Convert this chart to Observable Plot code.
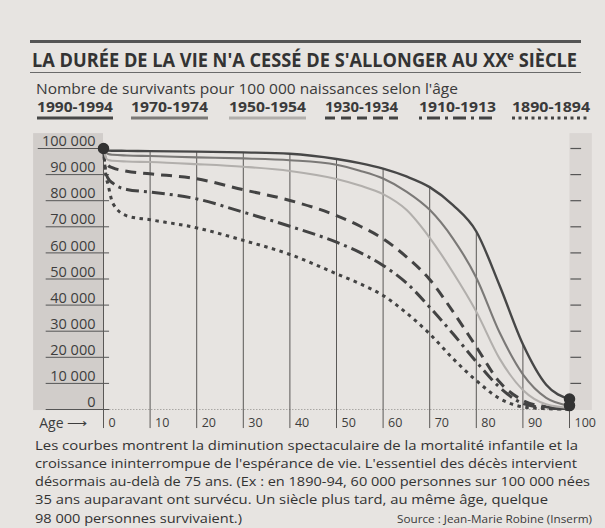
<!DOCTYPE html>
<html><head><meta charset="utf-8">
<script src="https://cdn.jsdelivr.net/npm/d3@7"></script>
<script src="https://cdn.jsdelivr.net/npm/@observablehq/plot@0.6"></script>
<style>
html,body{margin:0;padding:0;background:#e7e4e1;}
#page{position:relative;width:605px;height:528px;overflow:hidden;font-family:"Open Sans",sans-serif;color:#3a3a3a;}
#page svg{position:absolute;left:0;top:0;}
.t{position:absolute;white-space:nowrap;line-height:1;display:inline-block;transform-origin:0 0;}
.rule{position:absolute;}
</style></head>
<body><div id="page"></div>
<script>
// ---- data (survivors, thousands, per 100 000 births) ----
const ages   = [0, 0.5, 1, 2, 5, 10, 20, 30, 40, 50, 55, 60, 65, 70, 75, 80, 85, 90, 95, 100];
const s1990  = [100, 99.4, 99.2, 99.15, 99.1, 99.0, 98.8, 98.5, 98.0, 96.0, 94.4, 92.3, 89.3, 85.2, 78.3, 68.2, 47.5, 25.0, 9.5, 4.0];
const s1970  = [100, 98.5, 97.9, 97.6, 97.3, 97.1, 96.6, 96.2, 95.5, 93.8, 91.5, 88.5, 83.5, 76.5, 65.5, 50.5, 29.5, 13.5, 4.5, 1.5];
const s1950  = [100, 96.5, 95.6, 95.3, 95.0, 94.8, 94.0, 93.0, 91.4, 88.3, 85.8, 82.5, 76.5, 65.8, 52.5, 37.5, 19.5, 7.5, 2.0, 0.6];
const s1930  = [100, 95.0, 93.5, 92.6, 91.3, 90.3, 88.4, 84.2, 80.1, 74.3, 70.3, 65.4, 58.5, 49.8, 37.5, 24.0, 10.5, 3.5, 1.0, 0.3];
const s1910  = [100, 91.0, 88.5, 86.7, 84.3, 83.3, 80.7, 75.6, 70.2, 64.1, 60.2, 55.2, 48.5, 39.2, 29.0, 18.3, 8.5, 2.3, 0.6, 0.2];
const s1890  = [100, 90.0, 86.0, 79.0, 74.2, 72.7, 69.6, 64.8, 59.4, 52.0, 48.2, 43.7, 37.0, 29.0, 19.5, 11.1, 4.2, 1.0, 0.3, 0.1];
const seriesNames = ["1990-1994", "1970-1974", "1950-1954", "1930-1934", "1910-1913", "1890-1894"];
const seriesValues = [s1990, s1970, s1950, s1930, s1910, s1890];
const yTicks = [0, 10, 20, 30, 40, 50, 60, 70, 80, 90, 100];
const yTickLabels = ["0", "10 000", "20 000", "30 000", "40 000", "50 000", "60 000", "70 000", "80 000", "90 000", "100 000"];
const xTicks = [0, 10, 20, 30, 40, 50, 60, 70, 80, 90, 100];
const xTickLabels = ["0", "10", "20", "30", "40", "50", "60", "70", "80", "90", "100"];

const title = "LA DURÉE DE LA VIE N'A CESSÉ DE S'ALLONGER AU XX<sup style='font-size:0.62em;vertical-align:0.55em'>e</sup> SIÈCLE";
const subtitle = "Nombre de survivants pour 100 000 naissances selon l'âge";
const captionLines = [
  "Les courbes montrent la diminution spectaculaire de la mortalité infantile et la",
  "croissance ininterrompue de l'espérance de vie. L'essentiel des décès intervient",
  "désormais au-delà de 75 ans. (Ex : en 1890-94, 60 000 personnes sur 100 000 nées",
  "35 ans auparavant ont survécu. Un siècle plus tard, au même âge, quelque",
  "98 000 personnes survivaient.)"
];
const source = "Source : Jean-Marie Robine (Inserm)";

// ---- styles ----
const styles = [
  {stroke:"#474747", width:2.4, dash:null},
  {stroke:"#7b7977", width:2.1, dash:null},
  {stroke:"#b2afac", width:2.1, dash:null},
  {stroke:"#434343", width:3, dash:"11,7"},
  {stroke:"#434343", width:3, dash:"13,5,3,5"},
  {stroke:"#434343", width:3, dash:"3.5,4.5"}
];
const legendPos = [[37,113],[131,208],[229,306],[325,398],[419,496],[512,590]];
const legendDash = [null, null, null, "10,6", "3,5,13,5", "3,3.5"];

const rows = seriesNames.map((name, i) => ages.map((a, j) => ({series: name, age: a, v: seriesValues[i][j]})));
const topAt = a => s1990[ages.indexOf(a)];
const grid = xTicks.map(a => ({age: a, top: a === 0 ? 100 : topAt(a)}));
const ends = [{age: ages[0], v: s1990[0]}, {age: ages[ages.length-1], v: s1990[s1990.length-1]}, {age: ages[ages.length-1], v: s1970[s1970.length-1]}];

const page = document.getElementById("page");

const chart = Plot.plot({
  width: 605, height: 528,
  marginTop: 148, marginBottom: 119, marginLeft: 103, marginRight: 36,
  x: {domain: [0, 100], axis: null},
  y: {domain: [0, 100], axis: null},
  style: {background: "transparent", fontFamily: "Open Sans", color: "#3a3a3a", overflow: "visible"},
  marks: [
    Plot.rect([0], {x1: -15, x2: 0, y1: -0.4, y2: 105.7, fill: "#d1cdca"}),
    Plot.rect([0], {x1: 100.1, x2: 104.9, y1: -0.4, y2: 105.7, fill: "#dad6d3"}),
    Plot.ruleY([0], {x1: 0, x2: 100, stroke: "#9a9794", strokeWidth: 0.8, strokeDasharray: "1.5,1.5"}),
    Plot.ruleY(yTicks, {y: d => d, x1: d => d === 100 ? -14 : -12.3, x2: 1.3, stroke: "#555", strokeWidth: 1}),
    Plot.ruleY(yTicks.filter(d => d > 0), {y: d => d, x1: 100.3, x2: 102.6, stroke: "#555", strokeWidth: 1.2}),
    Plot.text(yTicks, {x: 0, y: d => d, text: (d, i) => yTickLabels[i], dx: -8, dy: -7, textAnchor: "end", fontSize: 14.5, fill: "#3d3d3d"}),
    Plot.ruleX(grid, {x: "age", y1: -7.3, y2: "top", stroke: "#5a5856", strokeWidth: 1}),
    Plot.text(xTicks, {x: d => d, y: -5.2, text: (d, i) => xTickLabels[i], dx: 5, textAnchor: "start", fontSize: 12.5, fill: "#3d3d3d"}),
    Plot.text(["Age ⟶"], {x: -13.8, y: -5.2, text: d => d, textAnchor: "start", fontSize: 14, fill: "#3d3d3d"}),
    ...rows.map((r, i) => Plot.line(r, {
      x: "age", y: "v", curve: "monotone-x",
      stroke: styles[i].stroke, strokeWidth: styles[i].width,
      strokeDasharray: styles[i].dash, strokeLinecap: "butt"
    })).reverse(),
    Plot.dot(ends, {x: "age", y: "v", r: 5, fill: "#333", stroke: "#333"})
  ]
});
page.appendChild(chart);

function addRule(top, left, width, height, color) {
  const d = document.createElement("div");
  d.className = "rule";
  Object.assign(d.style, {top: top + "px", left: left + "px", width: width + "px", height: height + "px", background: color});
  page.appendChild(d);
}
function addText(html, left, top, size, weight, targetW, color) {
  const s = document.createElement("span");
  s.className = "t";
  s.innerHTML = html;
  Object.assign(s.style, {left: left + "px", top: top + "px", fontSize: size + "px", fontWeight: weight, color: color || "#3a3a3a"});
  page.appendChild(s);
  if (targetW) {
    const w = s.getBoundingClientRect().width;
    s.style.transform = `scaleX(${targetW / w})`;
  }
  return s;
}

addRule(40, 30, 551, 3, "#555");
addText(title, 32, 50, 19.5, 700, 545, "#333");
addRule(72, 30, 551, 1, "#6a6a6a");
addText(subtitle, 36, 80.5, 15, 400, 422, "#3a3a3a");

seriesNames.forEach((name, i) => {
  const [x0, x1] = legendPos[i];
  addText(name, x0, 100, 14, 700, x1 - x0, "#3a3a3a");
  const svgNS = "http://www.w3.org/2000/svg";
  const svg = document.createElementNS(svgNS, "svg");
  svg.setAttribute("width", x1 - x0 + 2);
  svg.setAttribute("height", 6);
  svg.style.position = "absolute";
  svg.style.left = x0 + "px";
  svg.style.top = "115px";
  const ln = document.createElementNS(svgNS, "line");
  ln.setAttribute("x1", 0); ln.setAttribute("x2", x1 - x0);
  ln.setAttribute("y1", 3); ln.setAttribute("y2", 3);
  ln.setAttribute("stroke", styles[i].stroke);
  ln.setAttribute("stroke-width", 3);
  if (legendDash[i]) ln.setAttribute("stroke-dasharray", legendDash[i]);
  svg.appendChild(ln);
  page.appendChild(svg);
});

const capW = [543, 542, 555, 513, 207];
captionLines.forEach((line, i) => {
  addText(line, 35, 438.5 + i * 18.3, 13.5, 400, capW[i], "#333");
});
addText(source, 397, 514, 10.5, 400, 195, "#3a3a3a");
</script></body></html>
